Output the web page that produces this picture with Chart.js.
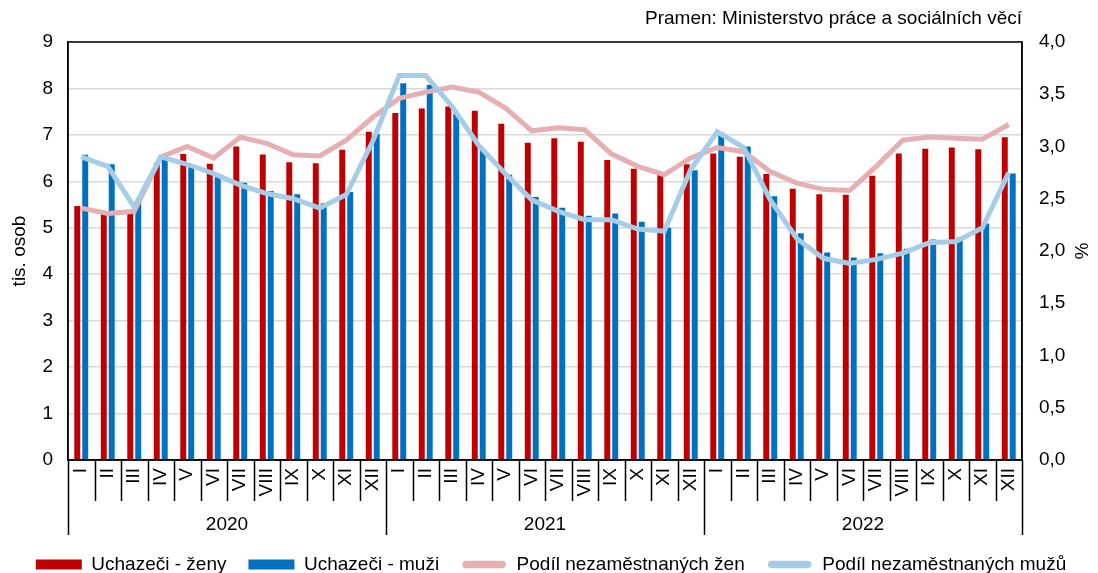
<!DOCTYPE html>
<html lang="cs">
<head>
<meta charset="utf-8">
<script src="https://cdn.jsdelivr.net/npm/chart.js@4.4.1/dist/chart.umd.min.js"></script>
<style>
    html, body { margin: 0; padding: 0; background: #fff; }
    #wrap { position: relative; width: 1098px; height: 573px; }
    #source {
        position: absolute; top: 7px; right: 76px;
        font: 19px "Liberation Sans", Arial, sans-serif; color: #000;
    }
</style>
</head>
<body>
<div id="wrap">
    <div id="source">Pramen: Ministerstvo práce a sociálních věcí</div>
    <canvas id="chart" width="1098" height="573"></canvas>
</div>
<script>
const MONTHS = ['I','II','III','IV','V','VI','VII','VIII','IX','X','XI','XII'];
const YEARS = ['2020','2021','2022'];
const CATEGORIES = YEARS.flatMap(y => MONTHS.map(m => m + ' ' + y));

// uchazeči v tis. osob
const womenCount = [
    5.47, 5.30, 5.30, 6.39, 6.59, 6.38, 6.75, 6.58, 6.41, 6.39, 6.68, 7.07,
    7.47, 7.57, 7.61, 7.52, 7.24, 6.83, 6.93, 6.85, 6.46, 6.27, 6.14, 6.37,
    6.60, 6.53, 6.16, 5.84, 5.72, 5.71, 6.12, 6.60, 6.70, 6.73, 6.69, 6.95,
];
const menCount = [
    6.57, 6.37, 5.55, 6.50, 6.32, 6.10, 5.97, 5.79, 5.72, 5.53, 5.77, 7.02,
    8.11, 8.08, 7.45, 6.69, 6.14, 5.66, 5.43, 5.26, 5.31, 5.13, 5.00, 6.24,
    7.05, 6.75, 5.68, 4.88, 4.47, 4.36, 4.45, 4.55, 4.75, 4.79, 5.09, 6.17,
];
// podíl nezaměstnaných v %
const womenShare = [
    2.41, 2.36, 2.38, 2.90, 3.00, 2.89, 3.09, 3.03, 2.92, 2.91, 3.06, 3.28,
    3.46, 3.52, 3.57, 3.52, 3.37, 3.15, 3.18, 3.16, 2.93, 2.81, 2.73, 2.89,
    2.99, 2.95, 2.76, 2.65, 2.59, 2.58, 2.81, 3.06, 3.09, 3.08, 3.07, 3.21,
];
const menShare = [
    2.90, 2.81, 2.42, 2.90, 2.83, 2.74, 2.63, 2.55, 2.50, 2.41, 2.54, 3.05,
    3.68, 3.68, 3.38, 3.01, 2.74, 2.49, 2.38, 2.30, 2.30, 2.21, 2.19, 2.78,
    3.14, 2.99, 2.49, 2.12, 1.93, 1.88, 1.92, 1.98, 2.08, 2.09, 2.22, 2.75,
];

const FAMILY = '"Liberation Sans", Arial, sans-serif';
const FONT = { family: FAMILY, size: 19 };

// ramecek grafu + oddelovace mesicu a roku pod osou x
const frame = {
    id: 'frame',
    afterDraw(chart) {
        const { ctx, chartArea: a } = chart;
        const x = chart.scales.x;
        const step = x.getPixelForValue(1) - x.getPixelForValue(0);
        ctx.save();
        ctx.strokeStyle = '#000';
        ctx.lineWidth = 1.5;
        ctx.strokeRect(a.left, a.top, a.right - a.left, a.bottom - a.top);
        ctx.beginPath();
        for (let i = 0; i <= CATEGORIES.length; i++) {
            const px = Math.round(x.getPixelForValue(i) - step / 2) + 0.5;
            ctx.moveTo(px, a.bottom);
            ctx.lineTo(px, a.bottom + (i % 12 === 0 ? 75 : 41));
        }
        ctx.stroke();
        ctx.restore();
    }
};

const baseLabels = Chart.defaults.plugins.legend.labels.generateLabels;

new Chart(document.getElementById('chart'), {
    type: 'bar',
    data: {
        labels: CATEGORIES,
        datasets: [
            { label: 'Uchazeči - ženy', data: womenCount, backgroundColor: '#C00000', yAxisID: 'y', order: 3 },
            { label: 'Uchazeči - muži', data: menCount, backgroundColor: '#0070C0', yAxisID: 'y', order: 3 },
            { type: 'line', label: 'Podíl nezaměstnaných žen', data: womenShare, yAxisID: 'y1',
              borderColor: '#E6B0B3', backgroundColor: '#E6B0B3', borderWidth: 5, pointRadius: 0, order: 1 },
            { type: 'line', label: 'Podíl nezaměstnaných mužů', data: menShare, yAxisID: 'y1',
              borderColor: '#A6CDE8', backgroundColor: '#A6CDE8', borderWidth: 5, pointRadius: 0, order: 0 },
        ],
    },
    options: {
        responsive: false,
        animation: false,
        layout: { padding: { top: 42, left: 4, right: 0, bottom: 0 } },
        datasets: { bar: { categoryPercentage: 0.6, barPercentage: 0.75 } },
        plugins: {
            legend: {
                position: 'bottom',
                maxHeight: 40,
                labels: {
                    font: FONT, color: '#000', boxWidth: 46, boxHeight: 10, padding: 22,
                    useBorderRadius: true,
                    sort: (a, b) => a.datasetIndex - b.datasetIndex,
                    generateLabels: chart => baseLabels(chart).map(item => {
                        const ds = chart.data.datasets[item.datasetIndex];
                        if (ds.type === 'line') {
                            item.fillStyle = ds.borderColor;
                            item.strokeStyle = '#fff';
                            item.lineWidth = 2.5;
                            item.borderRadius = 5;
                        } else {
                            item.lineWidth = 0;
                            item.borderRadius = 0;
                        }
                        return item;
                    }),
                },
            },
            tooltip: { enabled: false },
        },
        scales: {
            x: {
                type: 'category',
                position: 'bottom',
                offset: true,
                grid: { display: false, drawTicks: false },
                border: { color: '#000', width: 1.5 },
                ticks: {
                    font: FONT, color: '#000', autoSkip: false, minRotation: 90, maxRotation: 90, padding: 8,
                    callback: (v, i) => MONTHS[i % 12],
                },
                afterFit: s => { s.height = 40; },
            },
            x2: {
                type: 'category',
                labels: YEARS,
                position: 'bottom',
                offset: true,
                grid: { display: false, drawTicks: false },
                border: { display: false },
                ticks: { font: FONT, color: '#000', padding: 13 },
                afterFit: s => { s.height = 33; },
            },
            y: {
                position: 'left',
                min: 0, max: 9,
                ticks: { stepSize: 1, font: FONT, color: '#000', padding: 15 },
                grid: { color: '#D9D9D9', lineWidth: 1.5, drawTicks: false },
                border: { color: '#000', width: 1.5 },
                title: { display: true, text: 'tis. osob', font: FONT, color: '#000', padding: { top: 4, bottom: 10 } },
                afterFit: s => { s.width = 64; },
            },
            y1: {
                position: 'right',
                min: 0, max: 4,
                ticks: {
                    stepSize: 0.5, font: FONT, color: '#000', padding: 17,
                    callback: v => v.toFixed(1).replace('.', ','),
                },
                grid: { drawOnChartArea: false, drawTicks: false },
                border: { color: '#000', width: 1.5 },
                title: { display: true, text: '%', font: FONT, color: '#000', padding: { top: 6, bottom: 4 } },
                afterFit: s => { s.width = 76; },
            },
        },
    },
    plugins: [frame],
});
</script>
</body>
</html>
